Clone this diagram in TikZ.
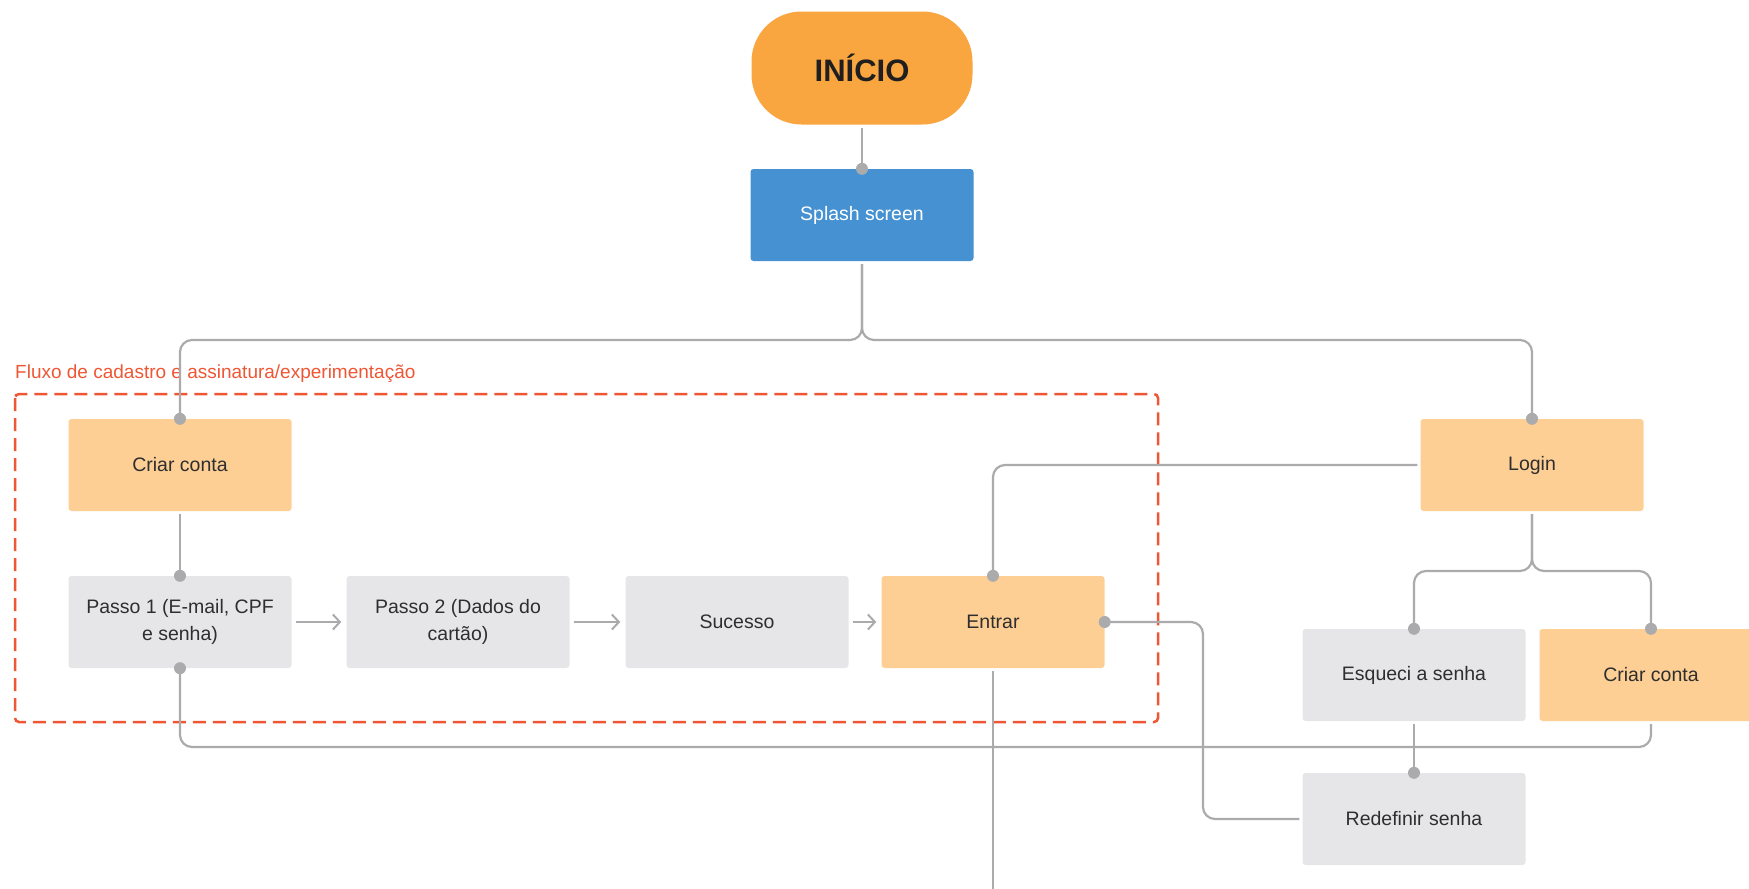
\documentclass[tikz,border=0pt]{standalone}
\usepackage{fontspec}
\setmainfont{Liberation Sans}
\usetikzlibrary{arrows.meta}
\definecolor{startor}{HTML}{F9A540}
\definecolor{lightor}{HTML}{FDCF95}
\definecolor{boxgray}{HTML}{E6E6E8}
\definecolor{splashblue}{HTML}{4591D1}
\definecolor{linegray}{HTML}{ABABAE}
\definecolor{flowred}{HTML}{EE5634}
\definecolor{txt}{HTML}{2E2E2E}
\tikzset{
  base/.style={minimum width=223pt, minimum height=92pt, rounded corners=3pt, inner sep=2pt, align=center, font=\fontsize{19.5}{27}\selectfont, text=txt},
  orbox/.style={base, fill=lightor},
  graybox/.style={base, fill=boxgray},
  bluebox/.style={base, fill=splashblue, text=white},
  conn/.style={draw=linegray, line width=2.2pt, rounded corners=12pt},
  arr/.style={conn, -{Straight Barb[length=7pt,width=15pt,line width=2pt]}, shorten <=4pt, shorten >=5pt},
  dot/.style={circle, fill=linegray, inner sep=0pt, minimum size=12pt},
}
\begin{document}
\begin{tikzpicture}[x=1pt,y=-1pt]
\useasboundingbox (0,0) rectangle (1749,889);
% group frame
\draw[flowred, line width=2.5pt, dash pattern=on 13pt off 7pt, rounded corners=4pt] (15,394) rectangle (1158,722);
\node[anchor=base west, inner sep=0pt, text=flowred, font=\fontsize{19}{22}\selectfont] (grouplabel) at (15,378) {Fluxo de cadastro e assinatura/experimentação};
% nodes
\node[fill=startor, minimum width=221pt, minimum height=113pt, rounded corners=50pt, font=\fontsize{31}{36}\selectfont\bfseries, text=black!88] (inicio) at (862,68) {INÍCIO};
\node[bluebox] (splash) at (862,215) {Splash screen};
\node[orbox] (criar1) at (180,465) {Criar conta};
\node[graybox] (passo1) at (180,622) {Passo 1 (E-mail, CPF\\e senha)};
\node[graybox] (passo2) at (458,622) {Passo 2 (Dados do\\cartão)};
\node[graybox] (sucesso) at (737,622) {Sucesso};
\node[orbox] (entrar) at (993,622) {Entrar};
\node[orbox] (login) at (1532,465) {Login};
\node[graybox] (esqueci) at (1414,675) {Esqueci a senha};
\node[orbox] (criar2) at (1651,675) {Criar conta};
\node[graybox] (redef) at (1414,819) {Redefinir senha};
\coordinate (split1) at (862,340);
\coordinate (split2) at (1532,571);
\coordinate (bend) at (1203,622);
\coordinate (down) at (993,889);
% connectors
\draw[conn, shorten <=3pt] (inicio.south) -- (splash.north);
\draw[conn, shorten <=3pt] (splash.south) -- (split1) -- (criar1.north |- split1) -- (criar1.north);
\draw[conn, shorten <=3pt] (splash.south) -- (split1) -- (login.north |- split1) -- (login.north);
\draw[conn, shorten <=3pt] (login.west) -- (entrar.north |- login.west) -- (entrar.north);
\draw[conn, shorten <=3pt] (criar1.south) -- (passo1.north);
\draw[arr] (passo1.east) -- (passo2.west);
\draw[arr] (passo2.east) -- (sucesso.west);
\draw[arr] (sucesso.east) -- (entrar.west);
\draw[conn, shorten >=3pt] (entrar.east) -- (bend) -- (bend |- redef.west) -- (redef.west);
\draw[conn, rounded corners=0pt, shorten <=3pt] (entrar.south) -- (down);
\draw[conn, shorten <=3pt] (login.south) -- (split2) -- (esqueci.north |- split2) -- (esqueci.north);
\draw[conn, shorten <=3pt] (login.south) -- (split2) -- (criar2.north |- split2) -- (criar2.north);
\draw[conn, shorten <=3pt] (esqueci.south) -- (redef.north);
\draw[conn, shorten <=3pt] (criar2.south) -- (1651,747) -- (180,747) -- (passo1.south);
% dots
\node[dot] at (splash.north) {};
\node[dot] at (criar1.north) {};
\node[dot] at (login.north) {};
\node[dot] at (passo1.north) {};
\node[dot] at (passo1.south) {};
\node[dot] at (entrar.north) {};
\node[dot] at (entrar.east) {};
\node[dot] at (esqueci.north) {};
\node[dot] at (criar2.north) {};
\node[dot] at (redef.north) {};
\end{tikzpicture}
\end{document}
